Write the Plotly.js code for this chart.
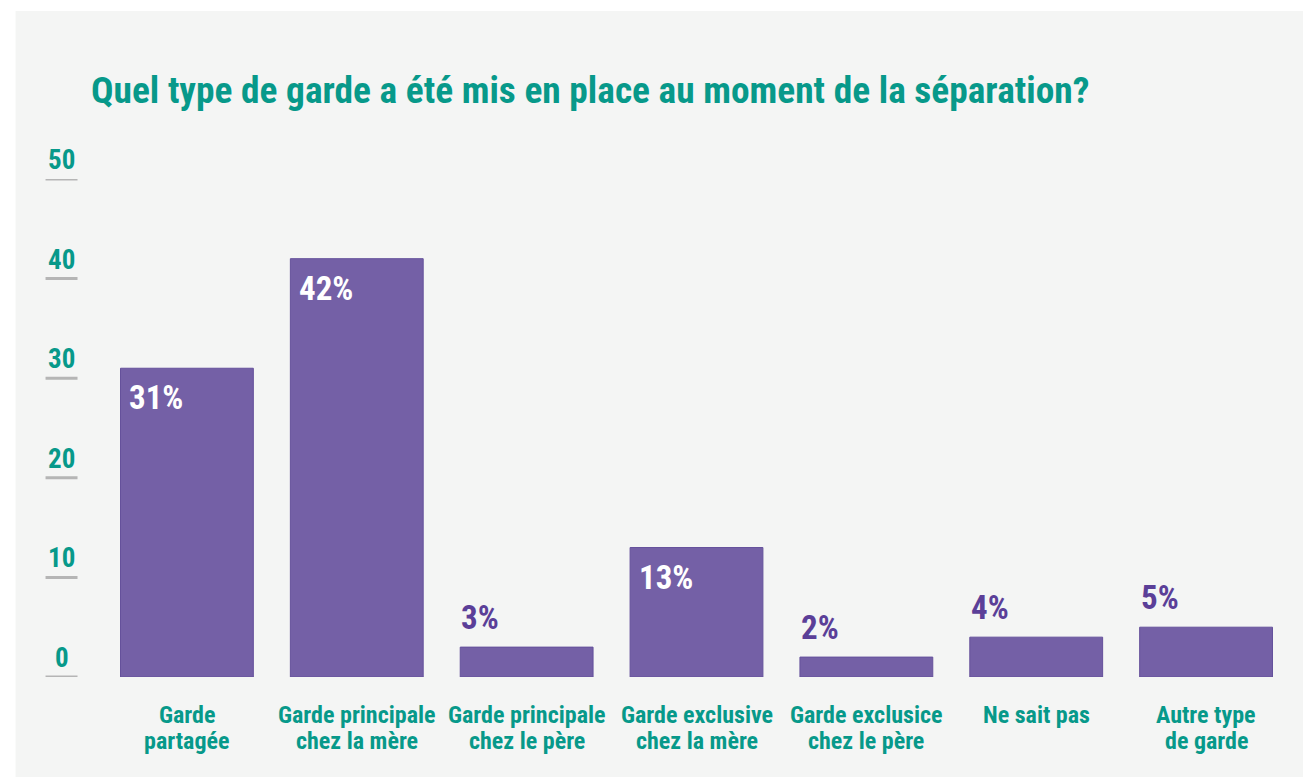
<!DOCTYPE html>
<html>
<head>
<meta charset="utf-8">
<script src="https://cdn.plot.ly/plotly-3.0.1.min.js"></script>
<style>
html,body{margin:0;padding:0;background:#ffffff;}
#chart{width:1303px;height:777px;}
</style>
</head>
<body>
<div id="chart"></div>
<script>
// ---- data ----
const categories = [
  "Garde<br>partagée",
  "Garde principale<br>chez la mère",
  "Garde principale<br>chez le père",
  "Garde exclusive<br>chez la mère",
  "Garde exclusice<br>chez le père",
  "Ne sait pas",
  "Autre type<br>de garde"
];
const values = [31, 42, 3, 13, 2, 4, 5];
const valueLabels = ["31%", "42%", "3%", "13%", "2%", "4%", "5%"];
const yTicks = [0, 10, 20, 30, 40, 50];
const titleText = "Quel type de garde a été mis en place au moment de la séparation?";

// ---- style ----
const FONT = "'Roboto Condensed', 'Liberation Sans Narrow', 'DejaVu Sans Condensed', Roboto, sans-serif";
const TEAL = "#07998a";
const PURPLE = "#7460a6";
const PURPLE_DARK = "#5b3f98";
const PANEL = "#f4f5f4";

const W = 1303, H = 777;
const mL = 101.5, mR = 11.5, mT = 179, mB = 100;
const plotW = W - mL - mR, plotH = H - mT - mB;
const px2x = p => (p - mL) / plotW;
const py2y = p => (H - mB - p) / plotH;

const xIdx = categories.map((c, i) => i);
const barWidth = 0.782;
const halfBarPx = barWidth * plotW / categories.length / 2;

const trace = {
  type: "bar",
  x: xIdx,
  y: values,
  width: barWidth,
  marker: {color: PURPLE, line: {color: "#65519b", width: 1}},
  hoverinfo: "skip"
};

const annotations = [];
values.forEach((v, i) => {
  const inside = v >= 10;
  annotations.push({
    x: i, y: v, xref: "x", yref: "y",
    text: "<b>" + valueLabels[i] + "</b>",
    showarrow: false,
    xanchor: "left",
    yanchor: inside ? "top" : "bottom",
    xshift: -halfBarPx + (inside ? 7 : -1),
    yshift: inside ? -8 : 8,
    font: {family: FONT, size: 33, color: inside ? "#ffffff" : PURPLE_DARK}
  });
});
yTicks.forEach(t => {
  annotations.push({
    x: px2x(61), y: t, xref: "paper", yref: "y",
    text: "<b>" + t + "</b>",
    showarrow: false,
    xanchor: "center", yanchor: "bottom", yshift: 1,
    font: {family: FONT, size: 27, color: TEAL}
  });
});
// category labels (two tight lines)
categories.forEach((c, i) => {
  c.split("<br>").forEach((line, k) => {
    annotations.push({
      x: i, y: 0, xref: "x", yref: "paper",
      text: "<b>" + line + "</b>",
      showarrow: false,
      xanchor: "center", yanchor: "top",
      yshift: -22 - 26 * k,
      font: {family: FONT, size: 24, color: TEAL}
    });
  });
});

const shapes = [{
  type: "rect", layer: "below",
  xref: "paper", yref: "paper",
  x0: px2x(15), x1: px2x(W + 5), y0: py2y(H + 5), y1: py2y(11),
  fillcolor: PANEL, line: {width: 0}
}];
yTicks.forEach(t => {
  shapes.push({
    type: "line", layer: "above",
    xref: "paper", yref: "y",
    x0: px2x(45), x1: px2x(77), y0: t, y1: t,
    line: {color: "#b5b5b5", width: 3}
  });
});

const layout = {
  width: W, height: H,
  margin: {l: mL, r: mR, t: mT, b: mB, pad: 0},
  paper_bgcolor: "#ffffff",
  plot_bgcolor: "rgba(0,0,0,0)",
  showlegend: false,
  title: {
    text: "<b>" + titleText + "</b>",
    x: 91 / W, xref: "container", xanchor: "left",
    y: 1 - 77 / H, yref: "container", yanchor: "top",
    font: {family: FONT, size: 37.4, color: TEAL}
  },
  xaxis: {
    range: [-0.5, categories.length - 0.5],
    showgrid: false, zeroline: false, showline: false,
    showticklabels: false, ticks: "",
    fixedrange: true
  },
  yaxis: {
    range: [0, 50],
    showgrid: false, zeroline: false, showline: false,
    showticklabels: false, ticks: "",
    fixedrange: true
  },
  shapes: shapes,
  annotations: annotations
};

Plotly.newPlot("chart", [trace], layout, {displayModeBar: false, staticPlot: true});
</script>
</body>
</html>
